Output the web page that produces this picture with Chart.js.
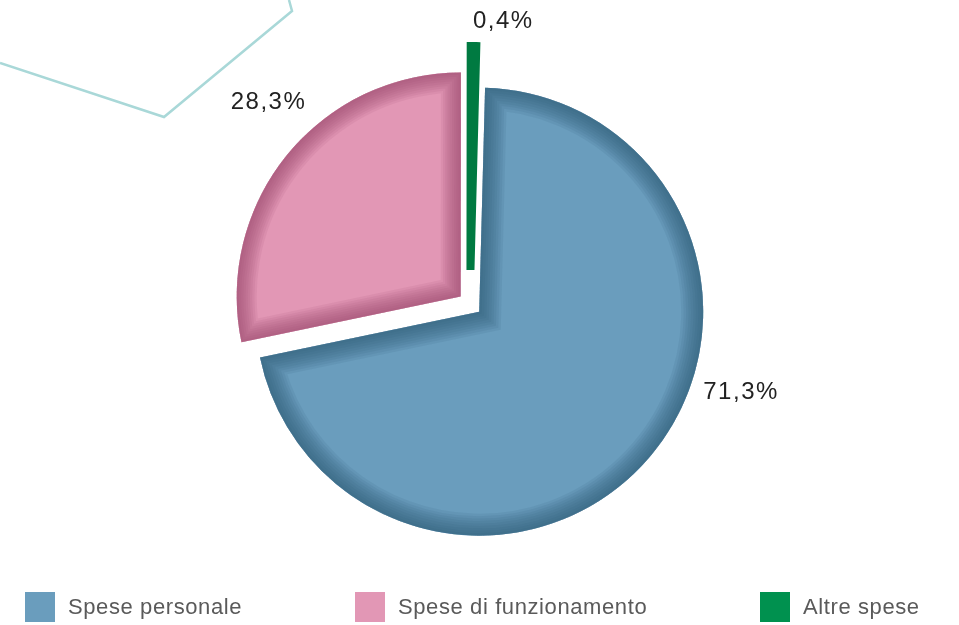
<!DOCTYPE html>
<html>
<head>
<meta charset="utf-8">
<script src="https://cdn.jsdelivr.net/npm/chart.js@4"></script>
<style>
  html, body { margin: 0; padding: 0; background: #fff; }
  #wrap { position: relative; width: 959px; height: 625px; overflow: hidden; }
  #pie { position: absolute; left: 0; top: 0; }
  .leg { position: absolute; top: 592px; height: 30px; display: flex; align-items: center;
         font-family: "Liberation Sans", Arial, sans-serif; font-size: 22px; letter-spacing: 0.6px; color: #5a5a5a; }
  .leg span.box { width: 30px; height: 30px; margin-right: 13px; display: inline-block; }
</style>
</head>
<body>
<div id="wrap">
  <canvas id="pie" width="959" height="625"></canvas>
</div>
<script>
const categories = ["Spese personale", "Spese di funzionamento", "Altre spese"];
const shares = [71.3, 28.3, 0.4];
const shareLabels = ["71,3%", "28,3%", "0,4%"];
const fillColors = ["#6a9dbd", "#e297b5", "#00914f"];
const edgeColors = ["#2c5878", "#9a4d6d", "#005c30"];

// layout only
const explode = [12, 12, 34];
const bevelWidths = [22, 20, 0];
const labelAngles = [108, 315, 6.7];
const labelRadius = 285;
const legendX = [25, 355, 760];

const explodePlugin = {
  id: "explode",
  afterUpdate(chart) {
    chart.getDatasetMeta(0).data.forEach((arc, i) => {
      const half = (arc.startAngle + arc.endAngle) / 2;
      arc.x += Math.cos(half) * explode[i];
      arc.y += Math.sin(half) * explode[i];
    });
  },
};

const bevelPlugin = {
  id: "bevel",
  beforeDraw(chart) {
    const ctx = chart.ctx;
    ctx.save();
    ctx.strokeStyle = "#a9d8d8";
    ctx.lineWidth = 2.5;
    ctx.beginPath();
    ctx.moveTo(0, 63);
    ctx.lineTo(164, 117);
    ctx.lineTo(292, 11);
    ctx.lineTo(289, 0);
    ctx.stroke();
    ctx.restore();
  },
  afterDatasetsDraw(chart) {
    const ctx = chart.ctx;
    chart.getDatasetMeta(0).data.forEach((arc, i) => {
      if (!bevelWidths[i]) return;
      ctx.save();
      ctx.beginPath();
      ctx.moveTo(arc.x, arc.y);
      ctx.arc(arc.x, arc.y, arc.outerRadius, arc.startAngle, arc.endAngle);
      ctx.closePath();
      ctx.clip();
      ctx.lineJoin = "miter";
      ctx.miterLimit = 10;
      const steps = 9;
      ctx.strokeStyle = edgeColors[i];
      ctx.globalAlpha = 0.11;
      for (let s = steps; s >= 1; s--) {
        ctx.lineWidth = (2 * bevelWidths[i] * s) / steps;
        ctx.stroke();
      }
      ctx.restore();
    });
    // percentage labels
    const cx = (chart.chartArea.left + chart.chartArea.right) / 2;
    const cy = (chart.chartArea.top + chart.chartArea.bottom) / 2;
    ctx.save();
    ctx.fillStyle = "#222";
    ctx.font = '24px "Liberation Sans", Arial, sans-serif';
    ctx.letterSpacing = "1.5px";
    ctx.textAlign = "center";
    ctx.textBaseline = "middle";
    shareLabels.forEach((txt, i) => {
      const a = (labelAngles[i] * Math.PI) / 180;
      ctx.fillText(txt, cx + Math.sin(a) * labelRadius, cy - Math.cos(a) * labelRadius);
    });
    ctx.restore();
  },
};

new Chart(document.getElementById("pie"), {
  type: "pie",
  data: {
    labels: categories,
    datasets: [
      {
        data: shares,
        backgroundColor: fillColors,
        borderWidth: [0, 0, 8],
        borderColor: ["#fff", "#fff", "#007a41"],
        borderJoinStyle: "miter",
      },
    ],
  },
  options: {
    responsive: false,
    animation: false,
    rotation: 1.5,
    radius: 224,
    layout: { padding: { left: 0, right: 19, top: 0, bottom: 17 } },
    plugins: {
      legend: { display: false },
      tooltip: { enabled: false },
    },
  },
  plugins: [explodePlugin, bevelPlugin],
});

const wrap = document.getElementById("wrap");
categories.forEach((name, i) => {
  const d = document.createElement("div");
  d.className = "leg";
  d.style.left = legendX[i] + "px";
  const box = document.createElement("span");
  box.className = "box";
  box.style.background = fillColors[i];
  d.appendChild(box);
  d.appendChild(document.createTextNode(name));
  wrap.appendChild(d);
});
</script>
</body>
</html>
